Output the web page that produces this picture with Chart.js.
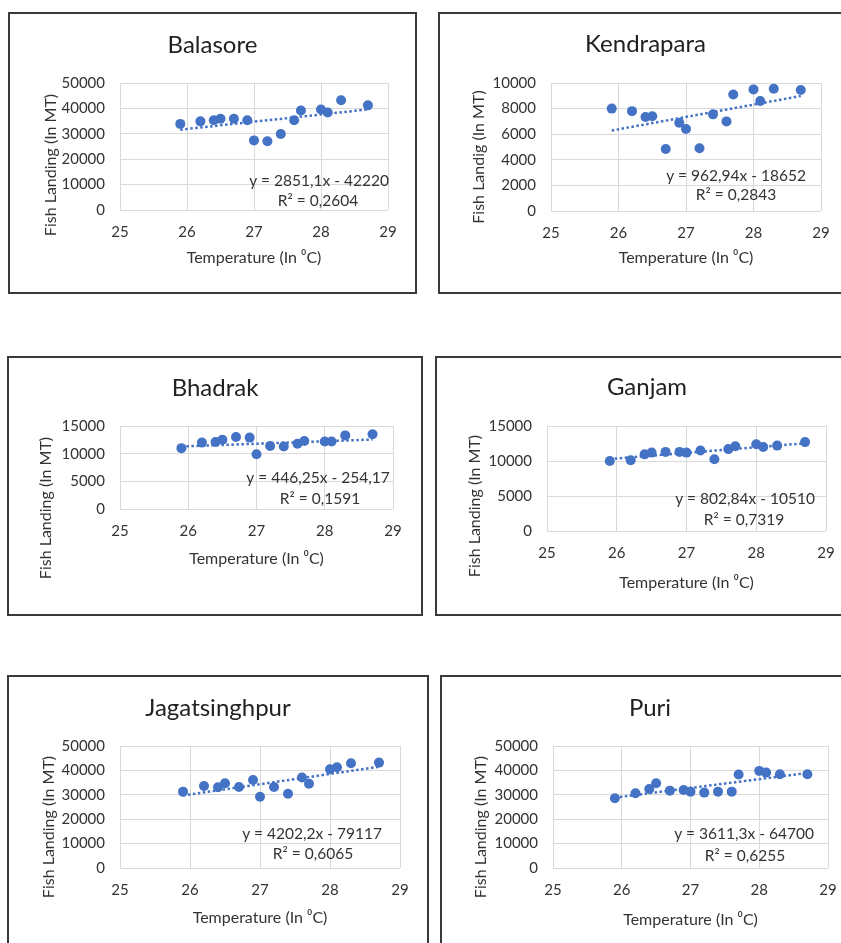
<!DOCTYPE html>
<html><head><meta charset="utf-8">
<script src="https://cdn.jsdelivr.net/npm/chart.js@4"></script>
<style>
html,body{margin:0;padding:0;background:#fff;overflow:hidden;width:841px;height:943px;}
canvas.panel{position:absolute;}
.frame{position:absolute;border:2px solid #3a3a3a;box-sizing:border-box;pointer-events:none;}
</style></head><body>
<script>
// ---------- data ----------
const temperatureC = [25.9, 26.2, 26.4, 26.5, 26.7, 26.9, 27.0, 27.2, 27.4, 27.6, 27.7, 28.0, 28.1, 28.3, 28.7];
const balasoreMT = [33900, 34900, 35300, 35900, 35900, 35300, 27400, 27100, 29900, 35300, 39200, 39600, 38400, 43200, 41200];
const kendraparaMT = [8000, 7800, 7350, 7400, 4850, 6900, 6400, 4900, 7550, 7000, 9100, 9500, 8600, 9550, 9450];
const bhadrakMT = [11000, 12000, 12100, 12500, 13000, 12900, 9900, 11400, 11300, 11800, 12300, 12200, 12200, 13300, 13500];
const ganjamMT = [10000, 10100, 10950, 11200, 11300, 11300, 11200, 11500, 10250, 11700, 12100, 12400, 12000, 12200, 12700];
const jagatsinghpurMT = [31300, 33600, 33100, 34700, 33200, 36100, 29200, 33200, 30400, 37100, 34500, 40500, 41300, 42900, 43200];
const puriMT = [28600, 30600, 32400, 34700, 31700, 32000, 31300, 30900, 31300, 31300, 38300, 39800, 39100, 38400, 38400];

const districtNames = ['Balasore', 'Kendrapara', 'Bhadrak', 'Ganjam', 'Jagatsinghpur', 'Puri'];
const landingSeries = [balasoreMT, kendraparaMT, bhadrakMT, ganjamMT, jagatsinghpurMT, puriMT];
const trendSlope = [2851.1, 962.94, 446.25, 802.84, 4202.2, 3611.3];
const trendIntercept = [-42220, -18652, -254.17, -10510, -79117, -64700];
const equationLabels = ['y = 2851,1x - 42220', 'y = 962,94x - 18652', 'y = 446,25x - 254,17', 'y = 802,84x - 10510', 'y = 4202,2x - 79117', 'y = 3611,3x - 64700'];
const rSquaredLabels = ['R\u00B2 = 0,2604', 'R\u00B2 = 0,2843', 'R\u00B2 = 0,1591', 'R\u00B2 = 0,7319', 'R\u00B2 = 0,6065', 'R\u00B2 = 0,6255'];
const yAxisTitles = ['Fish Landing (In MT)', 'Fish Landig (In MT)', 'Fish Landing (In MT)', 'Fish Landing (In MT)', 'Fish Landing (In MT)', 'Fish Landing (In MT)'];
const xAxisTitle = 'Temperature (In \u2070C)';
const yAxisMax = [50000, 10000, 15000, 15000, 50000, 50000];
const yAxisStep = [10000, 2000, 5000, 5000, 10000, 10000];
const xAxisMin = 25, xAxisMax = 29, xAxisStep = 1;

// ---------- layout (page pixels) ----------
const layouts = [
  {box:[8,12,409,282],  plot:[120,388,83,210], titleY:45, xTitleY:258, yTitle:[51,165], eq:[[319,181],[318,201]]},
  {box:[438,12,415,282], plot:[551,821,83,211], titleY:44, xTitleY:258, yTitle:[479,157], eq:[[736,176],[736,195]]},
  {box:[7,356,416,260],  plot:[120,393,426,509], titleY:388, xTitleY:559, yTitle:[46,508], eq:[[318,478],[320,499]]},
  {box:[435,356,424,260], plot:[547,826,426,531], titleY:387, xTitleY:583, yTitle:[475,506], eq:[[745,499],[744,520]]},
  {box:[7,675,422,290],  plot:[120,400,746,868], titleY:708, xTitleY:918, yTitle:[49,827], eq:[[312,834],[313,854]]},
  {box:[440,675,420,290], plot:[553,828,746,868], titleY:708, xTitleY:920, yTitle:[481,827], eq:[[744,834],[745,856]]}
];

const FONT = 'Lato, "Open Sans", sans-serif';
const BLUE = '#4472C4';
const TITLE_SIZE = 24, TITLE_LH = 1.2;
const TICK_SIZE = 15, AXT_SIZE = 16, AXT_LH = 1.2, EQ_SIZE = 15.5;

const panelText = {
  id: 'panelText',
  afterDraw(chart, args, opts) {
    const i = opts.index; const L = layouts[i];
    const ctx = chart.ctx;
    ctx.save();
    ctx.fillStyle = '#333333';
    ctx.textAlign = 'center';
    ctx.textBaseline = 'middle';
    ctx.font = AXT_SIZE + 'px ' + FONT;
    ctx.save();
    ctx.translate(L.yTitle[0] - L.box[0], L.yTitle[1] - L.box[1]);
    ctx.rotate(-Math.PI / 2);
    ctx.fillText(yAxisTitles[i], 0, 0);
    ctx.restore();
    ctx.font = EQ_SIZE + 'px ' + FONT;
    ctx.fillText(equationLabels[i], L.eq[0][0] - L.box[0], L.eq[0][1] - L.box[1]);
    ctx.fillText(rSquaredLabels[i], L.eq[1][0] - L.box[0], L.eq[1][1] - L.box[1]);
    ctx.restore();
  }
};

layouts.forEach((L, i) => {
  const [bx, by, bw, bh] = L.box;
  const cv = document.createElement('canvas');
  cv.className = 'panel';
  cv.width = bw; cv.height = bh;
  cv.style.left = bx + 'px'; cv.style.top = by + 'px';
  cv.style.width = bw + 'px'; cv.style.height = bh + 'px';
  document.body.appendChild(cv);
  const fr = document.createElement('div');
  fr.className = 'frame';
  fr.style.left = bx + 'px'; fr.style.top = by + 'px';
  fr.style.width = bw + 'px'; fr.style.height = bh + 'px';
  document.body.appendChild(fr);

  const plotL = L.plot[0] - bx, plotR = L.plot[1] - bx, plotT = L.plot[2] - by, plotB = L.plot[3] - by;
  const side = bw - plotR;           // symmetric padding keeps the title centred on the panel
  const yW = plotL - side;
  const xH = bh - plotB;
  const tLH = TITLE_SIZE * TITLE_LH;
  const tPadTop = (L.titleY - by) - tLH / 2;
  const tPadBottom = plotT - tPadTop - tLH;
  const axLH = AXT_SIZE * AXT_LH;
  const xTitlePadBottom = bh - (L.xTitleY - by) - axLH / 2;

  const pts = temperatureC.map((t, k) => ({x: t, y: landingSeries[i][k]}));
  const tMin = Math.min(...temperatureC), tMax = Math.max(...temperatureC);
  const trend = [tMin, tMax].map(t => ({x: t, y: trendSlope[i] * t + trendIntercept[i]}));

  new Chart(cv, {
    type: 'scatter',
    data: {
      datasets: [
        {label: districtNames[i], data: pts, backgroundColor: BLUE, borderColor: BLUE, pointRadius: 5, pointBorderWidth: 0, order: 1},
        {label: 'Linear', data: trend, showLine: true, borderColor: BLUE, borderWidth: 2.5, borderDash: [2.5, 2.5], borderCapStyle: 'butt', pointRadius: 0, fill: false, order: 0}
      ]
    },
    options: {
      responsive: false, animation: false, devicePixelRatio: 1,
      layout: {padding: {left: side, right: side, top: 0, bottom: 0}},
      plugins: {
        legend: {display: false}, tooltip: {enabled: false},
        title: {display: true, text: districtNames[i], color: '#222222',
          font: {family: FONT, size: TITLE_SIZE, weight: 'normal', lineHeight: TITLE_LH},
          padding: {top: tPadTop, bottom: tPadBottom}},
        panelText: {index: i}
      },
      scales: {
        x: {type: 'linear', min: xAxisMin, max: xAxisMax,
          ticks: {stepSize: xAxisStep, color: '#333333', padding: 13, font: {family: FONT, size: TICK_SIZE}, callback: v => String(v)},
          grid: {color: '#d9d9d9', drawTicks: false, tickLength: 0},
          border: {display: false},
          title: {display: true, text: xAxisTitle, color: '#333333', font: {family: FONT, size: AXT_SIZE, lineHeight: AXT_LH}, padding: {top: 0, bottom: xTitlePadBottom}},
          afterFit: s => { s.height = xH; }
        },
        y: {type: 'linear', min: 0, max: yAxisMax[i],
          ticks: {stepSize: yAxisStep[i], color: '#333333', padding: 15, font: {family: FONT, size: TICK_SIZE}, callback: v => String(v)},
          grid: {color: '#d9d9d9', drawTicks: false, tickLength: 0},
          border: {display: false},
          afterFit: s => { s.width = yW; }
        }
      }
    },
    plugins: [panelText]
  });
});
</script>
</body></html>
